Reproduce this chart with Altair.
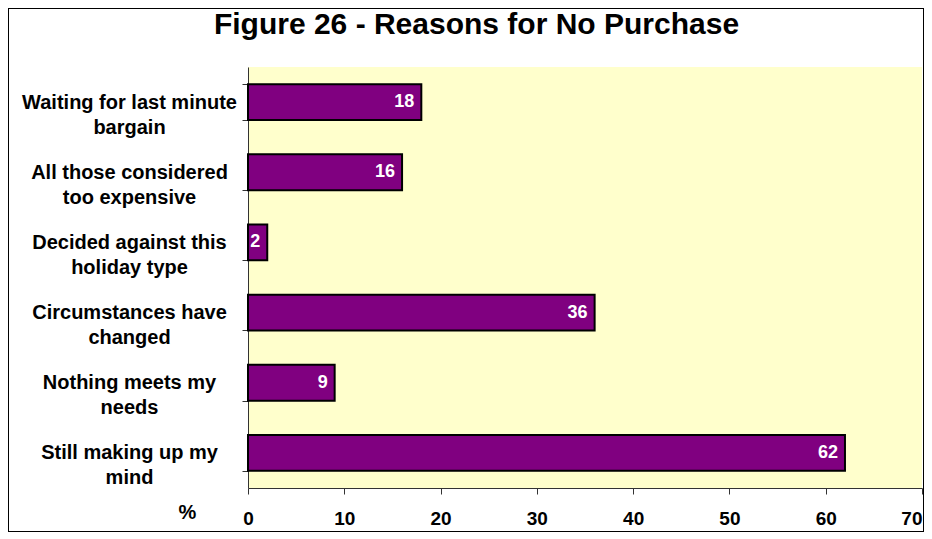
import altair as alt
import pandas as pd

title_text = ["Figure 26 - Reasons for No Purchase"]
reasons = [
    "Waiting for last minute\nbargain",
    "All those considered\ntoo expensive",
    "Decided against this\nholiday type",
    "Circumstances have\nchanged",
    "Nothing meets my\nneeds",
    "Still making up my\nmind",
]
percent = [18, 16, 2, 36, 9, 62]
x_ticks = [0, 10, 20, 30, 40, 50, 60, 70]

df = pd.DataFrame({"reason": reasons, "pct": percent})
tdf = pd.DataFrame({"t": title_text})

W, H = 674, 421
PAD = {"left": 240, "top": 59, "right": 2, "bottom": 44}

y_enc = alt.Y(
    "reason:N",
    sort=reasons,
    scale=alt.Scale(paddingInner=0.49, paddingOuter=0.245),
    axis=alt.Axis(
        title=None,
        labelExpr="split(datum.label, '\\n')",
        labelAlign="center",
        labelPadding=113,
        labelFontSize=20,
        labelFontWeight="bold",
        labelFont="Liberation Sans",
        labelColor="black",
        labelLineHeight=25,
        labelBaseline="middle",
        tickBand="extent",
        tickSize=6,
        tickColor="#333333",
        domainColor="#333333",
        labelLimit=400,
    ),
)

x_enc = alt.X(
    "pct:Q",
    scale=alt.Scale(domain=[0, 70], nice=False),
    axis=alt.Axis(
        values=x_ticks,
        title="%",
        titleX=-61,
        titleY=24,
        titleAngle=0,
        titleAlign="center",
        titleBaseline="middle",
        titleFontSize=20,
        titleFontWeight="bold",
        titleFont="Liberation Sans",
        titleColor="black",
        labelFontSize=19,
        labelFontWeight="bold",
        labelFont="Liberation Sans",
        labelColor="black",
        labelPadding=15,
        labelFlush=False,
        labelAlign={"condition": {"test": "datum.value == 70", "value": "right"}, "value": "center"},
        tickSize=6,
        tickColor="#333333",
        domainColor="#333333",
        grid=False,
    ),
)

bars = alt.Chart(df).mark_bar(
    color="#800080", stroke="black", strokeWidth=2
).encode(x=x_enc, y=y_enc)

labels = alt.Chart(df).mark_text(
    align="right", baseline="middle", dx=-7, color="white",
    fontSize=18, fontWeight="bold", font="Liberation Sans"
).encode(x="pct:Q", y=alt.Y("reason:N", sort=reasons), text="pct:Q")

frame = alt.Chart(df).mark_rect(
    fill=None, stroke="black", strokeWidth=1, clip=False
).encode(
    x=alt.value(-239.5), x2=alt.value(675.5),
    y=alt.value(-58.5), y2=alt.value(464.5),
)

title = alt.Chart(tdf).mark_text(
    align="center", baseline="alphabetic", fontSize=30, fontWeight="bold",
    font="Liberation Sans", color="black", clip=False
).encode(x=alt.value(228.5), y=alt.value(-33), text="t:N")

chart = alt.layer(bars, labels, frame, title).properties(
    width=W, height=H,
    padding=PAD,
    background="white",
    autosize=alt.AutoSizeParams(type="none"),
).configure_view(fill="#FFFFCC", stroke=None)

chart.save("out.html", embed_options={"renderer": "svg", "actions": False})
